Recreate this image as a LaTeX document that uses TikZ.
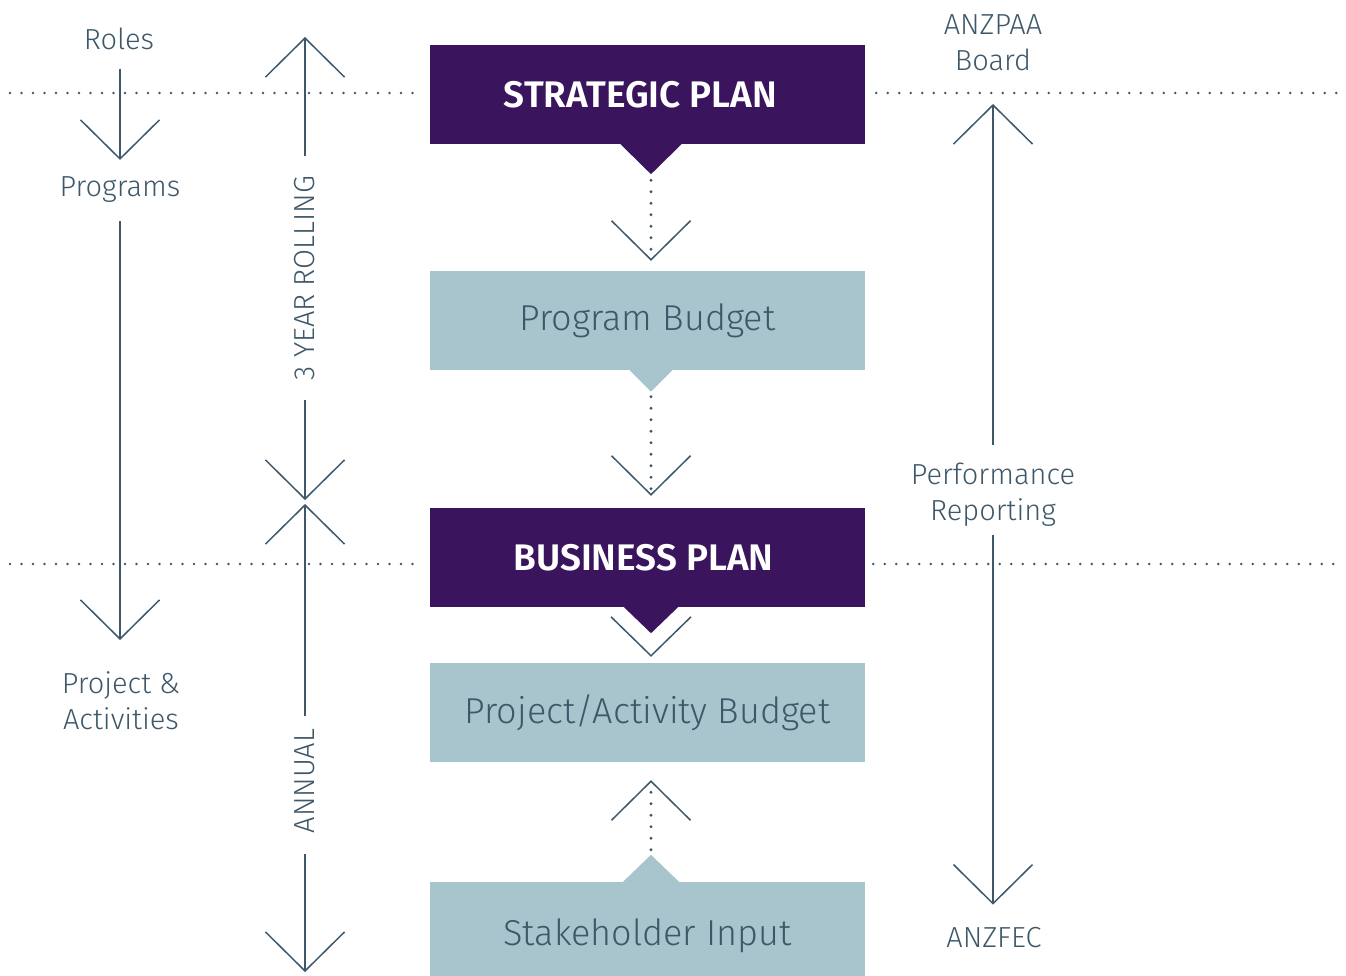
\documentclass[tikz,border=0pt]{standalone}
\usepackage{fontspec}
\setmainfont{Fira Sans}[UprightFont={* Light},BoldFont={* SemiBold}]
\usetikzlibrary{arrows.meta,calc,positioning}
\definecolor{planpurple}{RGB}{58,20,92}
\definecolor{budgetblue}{RGB}{168,196,204}
\definecolor{slate}{RGB}{62,88,106}
\tikzset{>=latex,
  lbl/.style={text=slate, inner sep=0pt, align=center, font=\fontsize{29}{36}\selectfont},
  planbox/.style={fill=planpurple, text=white, minimum width=435pt, minimum height=99pt, inner sep=0pt, font=\bfseries\fontsize{37}{40}\selectfont},
  budgetbox/.style={fill=budgetblue, text=slate, minimum width=435pt, minimum height=99pt, inner sep=0pt, font=\fontsize{36}{40}\selectfont},
  conn/.style={draw=slate, line width=1.5pt},
  chev/.style={-{Straight Barb[length=39pt,width=79pt,line width=1.5pt]}},
  dotline/.style={draw=slate, line width=3.2pt, line cap=round, dash pattern=on 0pt off 11.5pt},
}

\begin{document}
\begin{tikzpicture}[x=1pt, y=-1pt]
\useasboundingbox (0,0) rectangle (1346,976);
\coordinate (ax) at (651,0);
% centre column
\node[planbox] (strat) at (647.5,94.5) {\hspace*{-14pt}STRATEGIC PLAN};
\node[budgetbox] (pbud) at (647.5,320.5) {Program Budget};
\node[planbox] (bplan) at (647.5,557.5) {\hspace*{-8pt}BUSINESS PLAN};
\node[budgetbox] (pab) at (647.5,712.5) {Project/Activity Budget};
\node[budgetbox, minimum height=108pt] (stake) at (647.5,936) {Stakeholder Input};
\fill[planpurple] ($(strat.south -| ax)+(-30.5,-1)$) -- ++(0,1) -- ++(30.5,30) -- ++(30.5,-30) -- ++(0,-1) -- cycle;
\fill[budgetblue] ($(pbud.south -| ax)+(-21.5,-1)$) -- ++(0,1) -- ++(21.5,21.5) -- ++(21.5,-21.5) -- ++(0,-1) -- cycle;
\fill[planpurple] ($(bplan.south -| ax)+(-27,-1)$) -- ++(0,1) -- ++(27,26) -- ++(27,-26) -- ++(0,-1) -- cycle;
\fill[budgetblue] ($(stake.north -| ax)+(-28,1)$) -- ++(0,-1) -- ++(28,-27) -- ++(28,27) -- ++(0,1) -- cycle;
\coordinate (sptip) at ($(strat.south -| ax)+(0,30)$);
\coordinate (pbtip) at ($(pbud.south -| ax)+(0,21.5)$);
\coordinate (sitip) at ($(stake.north -| ax)+(0,-27)$);
\draw[dotline, chev, shorten <=6pt, shorten >=10pt] (sptip) -- (pbud.north -| sptip);
\draw[dotline, chev, shorten <=5pt, shorten >=12pt] (pbtip) -- (bplan.north -| pbtip);
\draw[conn] ($(pab.north -| ax)+(-40,-46)$) -- ($(pab.north -| ax)+(0,-7)$) -- ++(40,-39);
\draw[dotline, chev, shorten <=5pt, shorten >=18pt] (sitip) -- (pab.south -| sitip);
% dotted levels
\coordinate (lft1) at (10,93);
\coordinate (rgt1) at (1338,93);
\coordinate (lft2) at (10,564);
\coordinate (rgt2) at (1338,564);
\draw[dotline, line width=2.8pt, shorten >=15pt] (lft1) -- (lft1 -| strat.west);
\draw[dotline, line width=2.8pt, shorten <=11pt] (rgt1 -| strat.east) -- (rgt1);
\draw[dotline, line width=2.8pt, shorten >=10pt] (lft2) -- (lft2 -| bplan.west);
\draw[dotline, line width=2.8pt, shorten <=8pt] (rgt2 -| bplan.east) -- (rgt2);
% left column
\node[lbl, anchor=base] (roles) at (119,50) {Roles};
\node[lbl, anchor=base] (progs) at (120,197) {Programs};
\node[lbl, anchor=north] (projact) at (121,671) {Project \&\\Activities};
\draw[conn, chev, shorten <=18pt, shorten >=17pt] (progs.north |- roles.south) -- (progs.north);
\draw[conn, chev, shorten <=18pt, shorten >=31pt] (progs.south) -- (projact.north -| progs.south);
% time spans
\coordinate (top3) at (305,37);
\coordinate (mid3) at (305,502);
\coordinate (bot3) at (305,972);
\node[lbl, rotate=90] (rolling) at (305,278) {3 YEAR ROLLING};
\node[lbl, rotate=90] (annual) at (305,781) {ANNUAL};
\draw[conn, chev, shorten <=20pt] (rolling.east) -- (top3);
\draw[conn, chev, shorten <=20pt, shorten >=2pt] (rolling.west) -- (mid3);
\draw[conn, chev, shorten <=13pt, shorten >=2pt] (annual.east) -- (mid3);
\draw[conn, chev, shorten <=21pt] (annual.west) -- (bot3);
% right column
\node[lbl, anchor=south] (anzpaa) at (993,71) {ANZPAA\\Board};
\node[lbl, anchor=north] (perf) at (993,463) {Performance\\Reporting};
\node[lbl, anchor=base] (anzfec) at (994,947) {ANZFEC};
\draw[conn, chev, shorten <=18pt, shorten >=33pt] (perf.north) -- (anzpaa.south);
\draw[conn, chev, shorten <=8pt, shorten >=22pt] (perf.south) -- (anzfec.north -| perf.south);
\end{tikzpicture}
\end{document}
